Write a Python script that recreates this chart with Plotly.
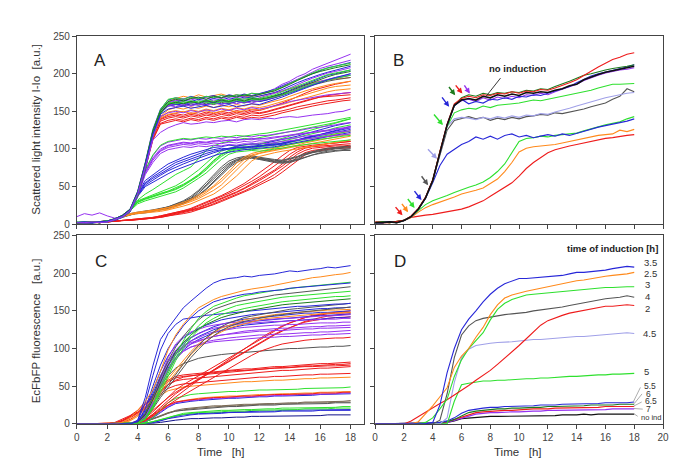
import plotly.graph_objects as go

# ---------------- data ----------------
TIME = [0, 0.5, 1, 1.5, 2, 2.5, 3, 3.5, 4, 4.5, 5, 5.5, 6, 6.5, 7, 7.5, 8, 8.5, 9,
        9.5, 10, 10.5, 11, 11.5, 12, 12.5, 13, 13.5, 14, 14.5, 15, 15.5, 16, 16.5, 17, 17.5, 18]
Y_TICKS = [0, 50, 100, 150, 200, 250]
X_TICKS_AC = [0, 2, 4, 6, 8, 10, 12, 14, 16, 18]
X_TICKS_BD = [0, 2, 4, 6, 8, 10, 12, 14, 16, 18, 20]

# Panel A - scattered light, all wells
A_TOP = [
    [2,1,3,2,3,6,10,18,40,78,122,150,162, 165,163,168,166,170,167,171,169,172,170,174,173, 176,180,186,190,196,200,206,210,215,218,222,226],
    [1,2,2,3,4,7,12,20,44,82,126,153,165, 168,166,170,167,169,171,168,172,170,173,171,174, 176,179,184,188,192,197,201,205,208,210,213,215],
    [2,2,1,3,3,5,9,16,36,72,116,146,160, 162,165,163,166,164,167,165,168,166,169,168,170, 172,175,179,184,188,192,196,199,202,205,207,210],
    [3,2,3,2,4,7,11,19,42,80,120,148,158, 160,158,162,160,163,161,164,162,165,163,166,165, 167,170,174,178,182,187,191,195,198,200,203,205],
    [2,3,2,3,4,6,11,18,39,76,118,147,157, 159,161,158,160,159,162,160,161,163,162,164,163, 165,168,171,174,178,182,186,189,192,194,196,198],
    [2,2,3,2,3,6,10,18,40,77,121,149,161, 164,167,165,168,166,169,167,170,168,171,170,172, 175,178,183,188,193,198,203,207,210,213,215,218],
    [10,14,12,15,11,8,10,17,38,75,118,147,158, 161,163,160,164,162,165,163,166,164,167,165,168, 170,173,177,181,186,190,194,198,201,203,206,208],
    [1,2,2,3,3,6,11,19,41,79,122,149,158, 156,159,157,160,158,161,159,162,160,163,161,164, 166,169,172,176,180,184,187,190,193,195,197,200],
    [2,2,3,2,4,7,11,19,42,80,124,152,166, 168,166,169,167,170,168,171,169,172,171,174,173, 175,178,182,187,192,197,201,205,208,210,212,214],
    [3,2,2,3,4,6,10,17,38,75,118,147,160, 163,161,164,162,165,163,166,164,167,166,168,167, 169,172,176,180,184,188,192,196,199,201,203,205],
    [2,3,2,2,3,6,10,18,40,78,121,150,162, 160,163,161,164,162,160,163,162,165,163,166,165, 167,169,172,175,179,183,186,189,192,194,196,198],
    [2,2,2,3,4,7,12,20,43,81,124,151,163, 166,164,167,169,166,170,168,171,169,172,170,173, 175,177,181,186,191,196,200,203,206,208,210,212],
    [1,2,3,2,3,6,10,18,39,76,119,148,159, 162,160,163,161,164,162,165,163,166,164,167,166, 168,170,173,177,181,185,189,193,196,199,201,203],
    [2,2,3,3,4,7,11,19,41,79,122,150,163, 167,170,168,172,169,171,173,170,172,169,171,170, 172,174,177,180,183,186,188,190,192,193,194,195],
    [2,1,2,3,3,6,10,17,38,74,116,143,152, 155,153,156,154,157,155,158,156,159,157,160,158, 161,163,166,170,174,177,180,183,185,187,189,190],
    [1,2,2,3,4,6,10,18,39,76,117,142,149, 151,149,152,150,153,151,154,152,155,153,156,155, 157,160,163,167,170,173,176,179,181,183,184,185],
    [2,2,3,2,4,7,11,18,40,77,118,141,146, 148,150,147,149,151,148,150,152,149,151,153,152, 154,156,159,162,165,168,171,174,176,178,179,180],
    [2,2,2,3,3,6,10,17,38,75,116,140,145, 147,145,148,146,149,147,150,148,151,149,152,151, 154,157,161,165,170,174,178,181,184,186,188,190],
    [1,2,3,2,4,6,10,18,39,76,115,137,141, 143,141,144,142,145,143,146,144,147,145,148,147, 149,152,155,158,161,164,167,169,171,173,174,175],
    [2,2,2,3,3,6,10,17,37,73,112,134,138, 140,138,141,139,142,140,143,141,144,142,145,144, 146,148,151,153,156,158,160,162,164,165,167,168],
    [2,1,2,3,4,6,11,18,38,74,113,133,136, 138,136,139,137,140,138,141,139,142,140,142,141, 143,145,148,150,153,155,157,159,161,162,164,165],
    [2,2,3,3,4,7,11,19,41,78,118,139,143, 145,143,146,144,147,145,148,146,149,147,150,148, 150,153,156,159,162,165,167,169,170,171,172,172],
    [2,2,2,3,3,6,10,18,40,77,117,143,148, 150,148,151,149,152,150,153,151,154,152,155,153, 155,157,160,163,165,167,169,171,172,173,174,175],
    [2,2,3,2,4,6,10,18,40,78,120,147,157, 159,157,160,158,161,159,162,160,163,161,164,163, 165,168,171,175,179,182,185,188,190,192,194,195],
    [2,3,2,3,4,7,11,19,41,79,120,146,153, 155,157,154,156,158,155,157,159,156,158,160,159, 162,165,169,173,177,181,185,189,192,195,198,200],
    [2,2,3,2,3,6,10,18,40,76,112,122,128, 132,135,133,134,136,135,137,138,136,139,140,139, 141,140,142,143,142,144,145,146,147,149,150,153],
]
A_TOP_COLORS = ["purple", "blue", "blue", "blue", "blue", "purple", "purple", "purple",
                "green", "green", "green", "dkgreen", "dkgreen", "orange", "orange", "orange",
                "orange", "red", "red", "red", "red", "red", "purple", "grey", "blue", "purple"]

A_MID_PURPLE = [
    [2,2,3,2,4,6,10,18,39,70,88,100,105, 107,109,108,110,109,111,110,112,111,113,112,114, 113,115,116,118,119,121,122,124,125,127,128,130],
    [2,3,2,3,3,6,10,17,38,68,85,97,102, 104,106,105,107,106,108,107,109,108,110,109,111, 110,112,113,114,115,117,118,119,120,122,123,124],
    [1,2,2,3,4,6,11,18,40,72,91,104,109, 111,113,112,114,113,115,114,116,115,117,116,118, 118,120,121,123,124,126,128,129,131,132,134,135],
    [2,2,3,2,3,6,10,17,37,66,82,94,99, 101,103,102,104,103,105,104,106,105,107,106,108, 107,109,110,111,112,113,114,115,116,118,119,120],
    [2,2,2,3,4,7,10,18,39,69,87,98,104, 106,108,107,109,108,110,112,111,113,112,114,113, 115,116,117,119,120,121,122,123,124,126,127,128],
    [2,2,3,2,3,6,10,18,40,72,92,105,110, 112,114,113,115,116,115,117,116,118,117,119,120, 121,123,125,127,129,131,133,135,137,139,140,142],
]
A_MID_PURPLE_COLORS = ["purple", "purple", "purple", "purple", "purple", "green"]

A_BLUE = [
    [2,2,3,2,4,6,10,18,40,55,63,70,76, 82,86,90,93,97,99,101,100,103,102,104,103, 106,105,108,110,112,114,117,119,122,124,127,130],
    [2,3,2,3,3,6,10,17,38,52,59,65,71, 76,80,84,88,92,95,98,100,101,103,102,104, 105,107,106,109,111,113,116,118,120,122,124,126],
    [1,2,2,3,4,7,11,18,41,58,66,73,80, 85,89,93,96,99,102,103,105,104,106,107,106, 108,110,112,114,117,120,123,126,129,131,133,135],
    [2,2,3,2,3,6,10,17,37,50,56,62,67, 72,76,80,84,88,91,94,96,98,99,100,101, 102,103,105,107,109,111,113,115,117,119,120,122],
    [2,2,2,3,4,6,10,18,39,54,61,67,74, 79,83,87,91,94,97,99,101,102,101,103,105, 104,106,108,110,112,115,117,120,122,124,126,128],
]

A_GREEN = [
    [2,2,3,2,4,6,10,19,29,33,36,39,42, 46,51,57,64,72,82,90,96,99,100,99,100, 101,102,104,106,108,110,111,113,114,116,117,118],
    [2,3,2,3,3,6,10,18,30,34,38,41,44, 48,53,59,66,75,85,93,98,101,102,101,103, 104,105,107,109,111,113,115,117,119,121,122,124],
    [1,2,2,3,4,6,10,18,27,31,34,37,40, 43,48,54,61,68,77,86,93,96,97,98,97, 98,100,101,103,104,106,107,108,109,110,111,112],
    [2,2,3,2,3,6,11,19,31,35,39,43,47, 51,57,64,72,81,90,97,101,104,105,106,107, 109,111,114,117,120,123,126,129,132,135,137,140],
    [2,2,2,3,4,6,10,18,29,34,37,40,43, 47,52,58,65,74,84,92,98,100,101,103,104, 106,108,110,113,115,118,120,123,125,128,130,132],
    [2,2,3,2,4,6,10,19,32,40,46,53,60, 66,71,76,87,98,104,108,110,112,114,113,115, 117,119,121,123,125,127,129,131,133,135,138,140],
]

A_ORANGE = [
    [2,2,3,2,4,6,10,13,15,16,17,18,20, 23,26,30,34,39,45,52,62,72,82,90,94, 96,98,100,102,104,105,107,109,111,113,115,117],
    [2,3,2,3,4,7,11,14,16,17,19,20,22, 25,29,33,38,44,51,60,70,81,89,94,97, 99,101,103,105,107,110,112,115,117,120,122,124],
    [1,2,2,3,3,6,10,13,14,15,16,17,19, 21,24,27,31,35,40,47,55,64,74,84,90, 93,95,97,99,100,102,104,105,107,109,110,112],
    [2,2,3,2,4,6,10,13,15,16,18,19,21, 24,27,31,36,42,49,57,67,77,86,92,95, 97,99,101,103,105,108,110,112,114,116,118,120],
]

A_GREY = [
    [2,2,3,2,4,6,10,13,15,16,18,20,22, 25,29,34,41,50,60,70,79,85,88,89,87, 85,84,83,84,87,92,95,97,99,100,101,101],
    [2,3,2,3,3,6,10,13,14,15,17,19,21, 24,27,32,38,46,55,65,75,82,86,88,86, 84,82,81,82,85,89,92,94,96,97,98,98],
    [1,2,2,3,4,7,11,14,16,17,19,21,23, 27,31,37,45,55,66,76,84,88,90,91,89, 87,86,85,87,90,94,97,99,101,102,103,104],
    [2,2,3,2,3,6,10,13,15,16,17,19,21, 24,28,33,39,47,57,67,77,84,87,88,87, 85,83,82,83,86,90,93,95,97,98,99,100],
    [2,2,2,3,4,6,10,13,15,17,18,20,23, 26,30,35,43,52,63,73,81,86,89,90,88, 86,85,84,86,89,93,96,98,100,101,102,103],
]

A_RED = [
    [1,2,2,3,3,4,5,5,6,7,8,10,12, 14,16,19,22,26,30,34,39,43,48,54,60, 66,72,80,89,96,101,103,104,105,106,106,107],
    [2,2,3,2,3,4,5,6,7,8,9,11,13, 15,18,21,25,29,33,38,43,48,54,61,68, 75,83,91,98,102,104,105,106,107,108,109,110],
    [2,1,2,3,3,4,4,5,6,7,8,9,11, 13,15,17,20,23,27,31,35,39,44,49,54, 60,66,73,81,89,95,98,100,101,102,103,103],
    [1,2,2,2,3,4,5,5,6,7,8,10,12, 14,16,18,21,25,29,33,37,42,47,52,58, 64,70,77,85,93,98,101,102,103,104,104,105],
    [2,2,2,3,3,4,5,6,7,8,9,11,13, 15,17,20,24,28,32,36,41,46,51,57,63, 70,77,85,93,99,102,104,105,107,108,109,110],
    [1,2,3,2,3,4,5,5,6,7,8,9,11, 12,14,16,19,22,26,30,34,38,42,47,52, 57,62,69,77,85,92,96,98,100,101,101,102],
]

# Panel B - one representative per induction time
B_IND_2 = [2,3,2,3,5,9,11,12,13,15,16,18,20,23,27,31,37,43,48,55,64,74,82,89,95,99,102,104,106,108,110,112,114,115,117,118,119]
B_IND_2_5 = [2,2,3,2,5,9,16,22,26,29,32,36,40,42,45,48,54,60,70,82,96,101,103,104,105,106,108,110,112,115,116,118,119,120,125,123,126]
B_IND_3 = [2,2,3,2,5,10,18,26,31,34,38,42,46,49,52,56,62,70,80,95,110,114,115,117,116,118,119,120,121,124,127,130,132,134,136,140,143]
B_IND_3_5 = [2,2,3,2,5,10,20,34,55,78,93,100,106,110,116,113,117,113,118,120,116,118,115,117,119,117,120,118,121,123,127,129,131,133,135,137,140]
B_IND_4 = [2,2,3,2,5,10,20,35,58,92,125,138,140,143,140,142,138,141,139,142,140,143,144,146,145,148,147,149,150,153,156,159,161,166,170,180,176]
B_IND_4_5 = [2,2,3,2,5,10,20,35,58,95,130,140,142,141,139,142,140,143,141,144,142,145,144,147,146,149,151,154,157,160,163,166,168,170,172,174,175]
B_IND_5 = [2,3,2,3,5,10,20,35,58,96,130,148,152,154,153,157,155,158,159,160,161,163,165,164,166,168,170,172,174,176,178,181,183,186,186,187,187]
B_IND_5_5 = [2,2,3,3,5,10,20,35,58,96,132,157,166,160,163,161,166,165,168,166,170,169,172,171,174,176,180,183,188,193,197,200,202,205,207,209,212]
B_IND_6 = [2,3,2,3,5,10,20,35,58,96,132,158,168,172,170,174,172,175,174,176,175,178,177,180,179,183,186,190,194,198,200,203,205,207,208,210,212]
B_IND_6_5 = [3,2,2,3,5,11,21,36,59,97,133,160,167,170,168,172,171,174,173,176,174,177,176,179,178,181,184,188,192,198,203,209,214,219,222,226,228]
B_IND_7 = [2,2,3,3,5,10,20,35,58,96,132,158,164,166,163,168,165,169,167,170,168,172,171,174,172,176,179,183,186,191,195,198,201,203,205,206,208]
B_NO_IND = [2,2,3,2,5,10,20,35,58,96,132,158,165,167,165,170,168,172,170,173,171,175,174,176,175,178,180,184,186,192,196,199,202,204,206,208,210]

# induction time arrows in B: (tail time, tail value, head time, head value)
B_ARROWS = [
    (1.33, 24.6, 1.90, 11.7), (1.78, 29.0, 2.29, 16.0), (2.19, 35.5, 2.74, 21.6),
    (2.65, 46.0, 3.22, 32.0), (3.15, 65.7, 3.68, 51.8), (3.57, 101.5, 4.30, 87.0),
    (4.00, 147.7, 4.71, 131.7), (4.57, 170.6, 5.14, 156.0), (5.05, 184.4, 5.56, 171.5),
    (5.51, 186.5, 6.06, 173.6), (6.13, 186.5, 6.58, 173.6),
]
B_ARROW_COLORS = ["red", "orange", "green", "blue", "grey", "lightblue", "green",
                  "blue", "dkgreen", "red", "purple"]

# Panel C - fluorescence, all wells
C_CURVES = [
    [0,0,0,0,0,0,0,0,5,35,77,112,127, 140,154,163,172,180,187,191,193,194,196,195,197, 198,199,201,203,202,204,205,206,208,207,209,210],
    [0,0,0,0,0,0,2,8,18,30,45,70,98, 118,132,144,154,160,165,169,172,175,177,179,180, 182,184,186,188,190,192,194,195,197,198,199,201],
    [0,0,0,0,0,0,0,0,3,20,50,78,100, 116,130,141,150,156,162,165,168,170,172,173,175, 176,177,178,180,181,182,183,184,185,186,186,187],
    [0,0,0,0,0,0,0,0,1,8,25,50,72, 92,110,126,140,149,156,160,164,167,170,172,174, 175,177,178,180,181,182,183,184,185,186,187,188],
    [0,0,0,0,0,0,0,0,2,14,36,62,84, 102,116,128,138,146,152,156,159,162,164,166,168, 169,171,172,174,175,176,177,178,179,180,181,182],
    [0,0,0,0,0,0,0,0,1,7,22,46,68, 88,104,118,130,139,146,150,154,157,159,161,163, 165,166,168,169,170,171,172,173,174,175,175,176],
    [0,0,0,0,0,0,0,0,1,6,20,42,64, 84,100,114,125,134,140,145,148,151,153,155,157, 159,160,162,163,164,165,166,167,168,169,169,170],
    [0,0,0,0,0,0,0,0,2,12,32,56,78, 96,108,118,126,132,137,141,144,147,149,151,153, 155,156,158,159,160,161,162,163,164,165,165,166],
    [0,0,0,0,0,0,0,0,4,28,64,98,120, 132,139,141,143,144,145,146,147,148,149,150,151, 152,153,154,155,156,156,157,158,158,159,159,160],
    [0,0,0,0,0,0,0,0,1,8,22,38,52, 66,80,93,104,114,122,129,134,138,141,143,145, 147,149,150,152,153,154,155,156,157,158,159,160],
    [0,0,0,0,0,0,0,0,1,7,20,35,48, 62,75,88,99,109,117,124,129,133,136,138,140, 142,144,145,147,148,149,150,151,152,153,154,155],
    [0,0,0,0,0,0,1,5,12,22,34,48,60, 72,84,96,106,114,121,127,131,135,138,140,142, 144,145,146,147,148,149,150,150,151,151,152,152],
    [0,0,0,0,0,0,1,4,10,19,30,43,56, 68,80,92,102,110,117,122,127,130,133,136,138, 140,141,142,143,144,145,146,146,147,147,148,148],
    [0,0,0,0,0,0,0,0,1,10,30,58,82, 98,108,115,120,124,127,129,131,132,133,134,135, 135,136,136,137,137,138,138,139,139,139,140,140],
    [0,0,0,0,0,0,0,0,1,8,26,52,76, 94,104,110,115,119,122,124,126,127,128,129,130, 130,131,131,132,132,133,133,134,134,134,135,135],
    [0,0,0,0,0,0,0,0,1,9,28,55,78, 94,103,108,111,114,116,118,119,120,121,122,123, 123,124,124,125,125,126,126,127,127,127,128,128],
    [0,0,0,0,0,0,0,0,1,7,24,48,70, 86,96,102,106,109,111,113,114,115,116,117,118, 118,119,119,120,120,121,121,122,122,123,123,124],
    [0,0,0,0,0,0,0,0,1,8,25,50,72, 88,97,102,105,107,109,110,111,112,113,114,114, 115,115,116,116,117,117,118,118,119,119,120,120],
    [0,0,0,0,0,0,0,0,1,10,32,62,88, 106,116,122,126,129,131,133,134,135,136,137,138, 138,139,140,140,141,142,142,143,143,144,144,145],
    [0,0,0,0,0,0,0,0,1,9,27,54,77, 93,101,106,110,113,116,118,120,122,123,124,125, 126,126,127,127,128,128,129,129,130,130,131,131],
    [0,0,0,0,0,0,0,0,2,16,40,64,82, 96,106,114,120,125,129,132,135,137,139,140,141, 142,143,144,145,146,147,147,148,148,149,149,150],
    [0,0,0,0,0,0,0,0,2,14,36,60,78, 92,102,110,116,121,125,128,131,133,135,136,137, 138,139,140,141,142,142,143,144,144,145,145,146],
    [0,0,0,0,0,0,0,0,2,12,32,56,74, 88,98,106,112,117,121,124,127,129,131,132,133, 134,135,136,137,137,138,139,139,140,141,141,142],
    [0,0,0,0,0,0,0,0,3,18,44,70,90, 104,114,121,127,131,135,138,140,142,144,145,146, 147,148,149,150,151,151,152,153,153,154,154,155],
    [0,0,0,0,0,0,0,0,2,8,16,26,36, 45,52,58,64,70,76,82,88,94,100,106,112, 118,124,129,134,138,141,144,146,147,148,149,150],
    [0,0,0,0,0,0,0,0,1,6,13,22,31, 40,47,53,59,65,71,77,83,89,95,101,107, 113,118,123,128,132,136,139,141,143,144,145,146],
    [0,0,0,0,0,0,0,1,4,10,18,27,35, 42,48,54,60,66,72,78,84,90,96,102,108, 114,119,124,128,132,135,137,139,140,141,141,142],
    [0,0,0,0,0,0,0,0,1,5,12,20,28, 36,44,51,58,65,72,79,86,93,100,107,113, 119,125,130,134,138,141,143,145,146,147,147,148],
    [0,0,0,0,0,0,0,0,1,5,11,18,25, 32,38,44,50,56,62,68,74,80,86,91,96, 100,103,106,108,110,111,112,113,113,114,114,115],
    [0,0,0,0,0,0,0,0,2,12,30,50,64, 74,80,84,87,89,91,92,93,94,95,96,97, 98,98,99,100,100,101,101,102,102,103,103,104],
    [0,0,0,0,0,2,6,11,18,27,38,50,58, 63,65,66,67,68,69,70,71,72,73,73,74, 75,76,76,77,78,78,79,80,80,81,81,82],
    [0,0,0,0,0,1,5,10,16,25,36,48,56, 61,63,64,65,66,67,68,69,70,71,72,72, 73,74,75,75,76,77,77,78,78,79,79,80],
    [0,0,0,0,0,1,4,9,15,23,33,44,52, 57,59,60,61,62,63,64,65,66,67,68,69, 69,70,71,71,72,73,73,74,74,75,75,76],
    [0,0,0,0,0,1,4,8,14,21,30,40,47, 51,53,54,55,56,57,58,59,59,60,61,62, 62,63,63,64,64,65,65,66,66,66,67,67],
    [0,0,0,0,0,1,4,9,15,22,30,38,44, 47,49,50,51,52,53,54,54,55,56,56,57, 57,58,58,59,59,60,60,61,61,61,62,62],
    [0,0,0,0,0,0,2,6,12,20,30,42,52, 58,62,64,66,67,68,69,70,71,71,72,73, 73,74,74,75,75,76,76,77,77,77,78,78],
    [0,0,0,0,0,0,0,0,0,2,8,18,28, 34,37,39,40,41,42,42,43,43,44,44,45, 45,45,46,46,46,47,47,47,48,48,48,49],
    [0,0,0,0,0,0,0,0,1,4,10,18,25, 29,31,32,33,34,35,35,36,36,37,37,38, 38,39,39,39,40,40,40,41,41,41,42,42],
    [0,0,0,0,0,0,0,0,1,3,9,16,23, 28,30,31,32,33,34,34,35,35,36,36,37, 37,38,38,38,39,39,39,40,40,40,41,41],
    [0,0,0,0,0,0,0,0,1,3,8,15,22, 27,29,30,31,32,33,33,34,34,35,35,36, 36,37,37,37,38,38,38,39,39,39,40,40],
    [0,0,0,0,0,0,0,0,1,4,10,17,24, 29,31,33,34,35,36,36,37,37,38,38,39, 39,40,40,40,41,41,41,42,42,42,43,43],
    [0,0,0,0,0,0,0,0,1,3,7,11,15, 18,20,21,22,23,24,24,25,25,26,26,27, 27,27,28,28,28,29,29,29,30,30,30,31],
    [0,0,0,0,0,0,0,0,1,3,6,10,14, 17,18,19,20,21,22,22,23,23,24,24,25, 25,25,26,26,26,27,27,27,27,28,28,28],
    [0,0,0,0,0,0,0,0,1,3,7,11,15, 17,19,20,21,22,23,23,24,24,25,25,26, 26,26,27,27,27,28,28,28,28,29,29,29],
    [0,0,0,0,0,0,0,0,0,1,3,6,9, 12,14,15,16,17,17,18,18,19,19,19,20, 20,20,21,21,21,21,22,22,22,22,23,23],
    [0,0,0,0,0,0,0,0,0,1,3,5,8, 11,13,14,15,15,16,16,17,17,17,18,18, 18,19,19,19,19,20,20,20,20,21,21,21],
    [0,0,0,0,0,0,0,0,0,1,2,4,7, 9,11,12,13,13,14,14,15,15,15,16,16, 16,16,17,17,17,17,17,18,18,18,18,18],
    [0,0,0,0,0,0,0,0,0,1,2,5,8, 10,12,13,14,14,15,15,16,16,16,17,17, 17,17,18,18,18,18,18,19,19,19,19,19],
    [0,0,0,0,0,0,0,0,0,0,1,2,4, 5,6,7,7,8,8,8,9,9,9,10,10, 10,10,10,11,11,11,11,11,12,12,12,12],
]
C_COLORS = ["blue", "orange", "blue", "green", "grey", "green", "green", "dkgreen", "blue", "grey",
            "grey", "orange", "orange", "purple", "purple", "purple", "purple", "purple", "purple",
            "purple", "blue", "blue", "blue", "blue", "red", "red", "red", "red", "red", "grey",
            "red", "red", "red", "red", "orange", "red", "green", "red", "purple", "blue", "orange",
            "brown", "grey", "brown", "green", "green", "blue", "blue", "navy"]

# Panel D - one representative per induction time
D_IND_2 = [0,0,0,0,0,4,10,16,22,27,32,38,44,51,58,64,71,79,87,96,104,113,122,131,137,141,144,147,149,151,153,154,156,156,157,158,157]
D_IND_2_5 = [0,0,0,0,0,0,3,13,24,36,48,75,90,100,115,128,145,158,167,171,174,176,178,180,182,184,185,188,190,191,193,194,196,197,198,199,201]
D_IND_3 = [0,0,0,0,0,0,0,2,8,20,33,63,85,100,110,121,138,152,160,165,168,171,172,173,174,175,176,177,177,178,179,180,181,181,182,182,182]
D_IND_3_5 = [0,0,0,0,0,0,0,0,2,25,68,100,125,139,150,162,172,180,186,190,193,193,194,195,195,196,197,199,201,201,202,203,204,206,207,209,208]
D_IND_4 = [0,0,0,0,0,0,0,0,0,5,40,88,118,130,137,140,142,144,145,146,147,148,150,151,152,154,155,157,159,161,162,164,166,167,168,170,168]
D_IND_4_5 = [0,0,0,0,0,0,0,0,0,0,8,55,88,99,104,106,107,108,108,109,110,111,112,112,113,114,114,115,116,116,117,118,118,119,120,121,120]
D_IND_5 = [0,0,0,0,0,0,0,0,0,0,0,30,52,54,56,57,57,58,58,59,59,60,60,61,61,62,62,63,63,64,64,65,65,66,66,67,67]
D_IND_5_5 = [0,0,0,0,0,0,0,0,1,2,4,8,14,18,20,21,22,22,23,23,24,24,24,25,25,25,26,26,26,27,27,27,28,28,28,28,29]
D_IND_6 = [0,0,0,0,0,0,0,0,1,2,3,6,11,15,17,18,19,20,20,21,21,22,22,22,23,23,23,24,24,24,25,25,25,25,26,26,26]
D_IND_6_5 = [0,0,0,0,0,0,0,0,0,1,3,6,10,13,15,16,17,17,18,18,19,19,20,20,20,21,21,21,22,22,22,22,23,23,23,23,23]
D_IND_7 = [0,0,0,0,0,0,0,0,0,1,2,5,8,11,13,14,15,15,16,16,16,17,17,17,18,18,18,18,19,19,19,19,19,20,20,20,20]
D_NO_IND = [0,0,0,0,0,0,0,0,0,1,2,4,7,8,9,9,10,10,10,10,11,11,11,11,11,11,12,12,12,13,12,13,13,13,13,13,13]

IND_LABELS = ["3.5", "2.5", "3", "4", "2", "4.5", "5", "5.5", "6", "6.5", "7", "no ind"]

# ---------------- styling ----------------
COL = {
    "red": "#ee1c1c", "orange": "#ff8a1c", "green": "#2ee02e", "blue": "#2727d8",
    "grey": "#555555", "lightblue": "#a0a0e8", "dkgreen": "#1c7a1c", "purple": "#9632f0",
    "black": "#111111", "brown": "#7a6a55", "navy": "#10108a",
}
FONT = "Arial, Liberation Sans, Helvetica, sans-serif"

all_series = (A_TOP + A_MID_PURPLE + A_BLUE + A_GREEN + A_ORANGE + A_GREY + A_RED + C_CURVES +
              [B_IND_2, B_IND_2_5, B_IND_3, B_IND_3_5, B_IND_4, B_IND_4_5, B_IND_5, B_IND_5_5,
               B_IND_6, B_IND_6_5, B_IND_7, B_NO_IND, D_IND_2, D_IND_2_5, D_IND_3, D_IND_3_5,
               D_IND_4, D_IND_4_5, D_IND_5, D_IND_5_5, D_IND_6, D_IND_6_5, D_IND_7, D_NO_IND])
for i, s in enumerate(all_series):
    assert len(s) == len(TIME), (i, len(s))
assert len(C_COLORS) == len(C_CURVES)
assert len(A_TOP_COLORS) == len(A_TOP)

fig = go.Figure()


def add(vals, color, xa, ya, width=1.0):
    fig.add_trace(go.Scatter(x=TIME, y=vals, mode="lines", xaxis=xa, yaxis=ya,
                             line=dict(color=COL[color], width=width), hoverinfo="skip",
                             showlegend=False))


# Panel A
for v in A_RED:
    add(v, "red", "x", "y")
for v in A_GREY:
    add(v, "grey", "x", "y")
for v in A_ORANGE:
    add(v, "orange", "x", "y")
for v in A_GREEN:
    add(v, "green", "x", "y")
for v in A_BLUE:
    add(v, "blue", "x", "y")
for v, c in zip(A_MID_PURPLE, A_MID_PURPLE_COLORS):
    add(v, c, "x", "y")
order = sorted(range(len(A_TOP)), key=lambda i: {"red": 0, "orange": 1, "grey": 2}.get(A_TOP_COLORS[i], 3))
for i in order:
    add(A_TOP[i], A_TOP_COLORS[i], "x", "y")

# Panel B
b_series = [(B_IND_2, "red"), (B_IND_2_5, "orange"), (B_IND_3, "green"), (B_IND_3_5, "blue"),
            (B_IND_4, "grey"), (B_IND_4_5, "lightblue"), (B_IND_5, "green"), (B_IND_7, "purple"),
            (B_IND_5_5, "blue"), (B_IND_6, "dkgreen"), (B_IND_6_5, "red")]
for v, c in b_series:
    add(v, c, "x2", "y2", 1.1)
add(B_NO_IND, "black", "x2", "y2", 1.6)

# Panel C
for i in range(len(C_CURVES) - 1, -1, -1):
    add(C_CURVES[i], C_COLORS[i], "x3", "y3")

# Panel D
d_series = [(D_NO_IND, "black"), (D_IND_7, "purple"), (D_IND_6_5, "red"), (D_IND_6, "dkgreen"),
            (D_IND_5_5, "blue"), (D_IND_5, "green"), (D_IND_4_5, "lightblue"), (D_IND_2, "red"),
            (D_IND_4, "grey"), (D_IND_3, "green"), (D_IND_2_5, "orange"), (D_IND_3_5, "blue")]
for v, c in d_series:
    add(v, c, "x4", "y4", 1.1)

W, H = 685, 468


def px(x):
    return x / W


def py(y):
    return 1 - y / H


XA = [px(66.7), px(358.0)]
XB = [px(369.0), px(660.7)]
YT = [py(215.7), py(22.7)]
YBOT = [py(420.7), py(227.3)]

axis_common = dict(showgrid=False, zeroline=False, showline=True, mirror=True, linecolor="#444444",
                   linewidth=1, ticks="outside", ticklen=4, tickwidth=1, tickcolor="#444444",
                   tickfont=dict(family=FONT, size=10, color="#444444"))

fig.update_layout(
    width=W, height=H, margin=dict(l=0, r=0, t=0, b=0),
    paper_bgcolor="white", plot_bgcolor="white", showlegend=False,
    xaxis=dict(domain=XA, range=[0, 18.9], anchor="y", tickvals=X_TICKS_AC, showticklabels=False, **axis_common),
    yaxis=dict(domain=YT, range=[0, 250], anchor="x", tickvals=Y_TICKS, **axis_common),
    xaxis2=dict(domain=XB, range=[0, 20], anchor="y2", tickvals=X_TICKS_BD, showticklabels=False, **axis_common),
    yaxis2=dict(domain=YT, range=[0, 250], anchor="x2", tickvals=Y_TICKS, showticklabels=False, **axis_common),
    xaxis3=dict(domain=XA, range=[0, 18.9], anchor="y3", tickvals=X_TICKS_AC, **axis_common),
    yaxis3=dict(domain=YBOT, range=[0, 250], anchor="x3", tickvals=Y_TICKS, **axis_common),
    xaxis4=dict(domain=XB, range=[0, 20], anchor="y4", tickvals=X_TICKS_BD, **axis_common),
    yaxis4=dict(domain=YBOT, range=[0, 250], anchor="x4", tickvals=Y_TICKS, showticklabels=False, **axis_common),
)

ann = []


def text(x, y, s, size, bold=False, angle=0, xanchor="center", color="#222222"):
    ann.append(dict(x=px(x), y=py(y), xref="paper", yref="paper", text=f"<b>{s}</b>" if bold else s,
                    showarrow=False, textangle=angle, xanchor=xanchor, yanchor="middle",
                    font=dict(family=FONT, size=size, color=color)))


text(25, 118, "Scattered light intensity I-Io  [a.u.]", 11.5, angle=-90, color="#333333")
text(25, 325, "EcFbFP fluorescence   [a.u.]", 11.5, angle=-90, color="#333333")
text(213, 450, "Time   [h]", 11.5, color="#333333")
text(514, 450, "Time   [h]", 11.5, color="#333333")
text(90, 48, "A", 17)
text(393, 48, "B", 17)
text(91, 254, "C", 17)
text(394, 254, "D", 17)
text(513, 56, "no induction", 9.5, bold=True)
text(609.5, 241, "time of induction [h]", 9.5, bold=True)

label_pos = [(639.3, 255), (639.3, 266.5), (640, 278), (640, 290), (640, 302), (638.5, 327.5),
             (639, 366.5), (639.3, 381.5), (641.5, 389.5), (640, 397.5), (641.5, 405.5), (636, 414)]
for (lx, ly), lab in zip(label_pos, IND_LABELS):
    if lab == "no ind":
        size = 7.5
    elif ly > 375:
        size = 8.5
    else:
        size = 9.5
    text(lx, ly, lab, size, xanchor="left", color="#333333")

for (t0, v0, t1, v1), c in zip(B_ARROWS, B_ARROW_COLORS):
    ann.append(dict(x=t1, y=v1, ax=t0, ay=v0, xref="x2", yref="y2", axref="x2", ayref="y2",
                    text="", showarrow=True, arrowhead=2, arrowsize=0.8, arrowwidth=1.4,
                    arrowcolor=COL[c]))
fig.update_layout(annotations=ann)

shapes = [dict(type="line", xref="x2", yref="y2", x0=8.71, y0=194.2, x1=7.73, y1=170.5,
               line=dict(color="#222222", width=0.9))]
for (a, b, c, d) in [(18.43, 48.4, 17.95, 29.8), (18.54, 39.8, 18.0, 26.9), (18.52, 29.1, 17.95, 23.5),
                     (18.59, 19.6, 17.97, 20.5), (18.24, 10.1, 17.97, 13.6)]:
    shapes.append(dict(type="line", xref="x4", yref="y4", x0=a, y0=b, x1=c, y1=d,
                       line=dict(color="#999999", width=0.8)))
fig.update_layout(shapes=shapes)

fig.write_html("out.html")
